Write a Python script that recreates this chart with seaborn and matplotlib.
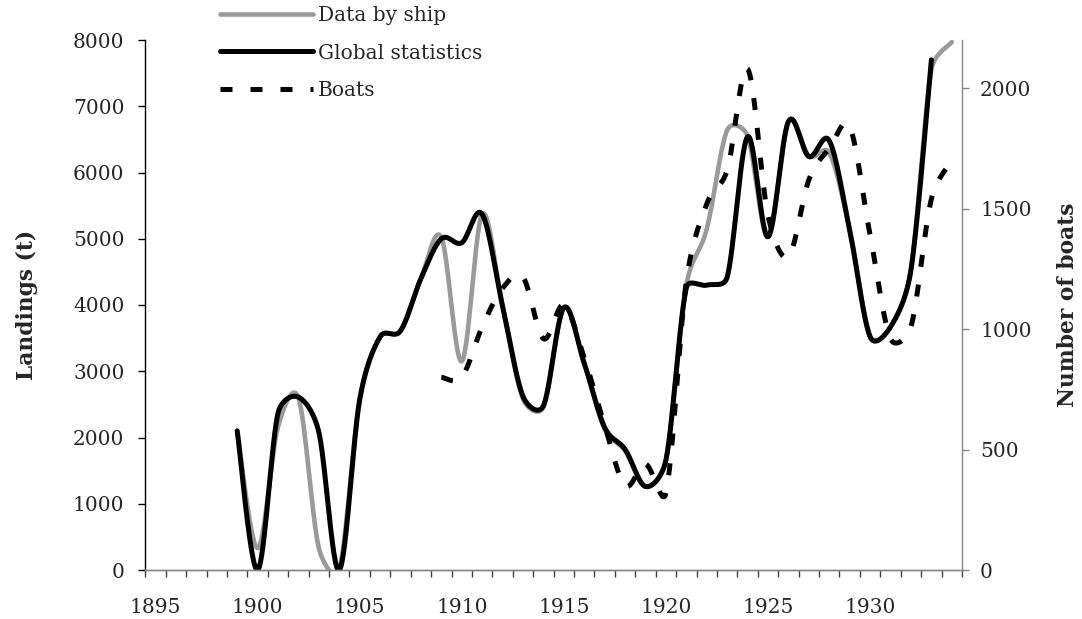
import numpy as np
import pandas as pd
import matplotlib
matplotlib.use("Agg")
import matplotlib.pyplot as plt
from matplotlib.ticker import FixedLocator
import seaborn as sns

# values (one per year)
ship_years = list(range(1899, 1935))
ship_landings = [2100, 330, 2160, 2600, 330, 0, 2570, 3520, 3610, 4400,
                 5020, 3150, 5370, 3980, 2580, 2460, 3950, 3110, 2130, 1800,
                 1260, 1660, 4300, 5150, 6640, 6550, 5030, 6770, 6250, 6300,
                 5130, 3520, 3670, 4530, 7550, 7970]

global_years = list(range(1899, 1934))
global_landings = [2100, 0, 2370, 2610, 2080, 0, 2570, 3520, 3610, 4400,
                   5000, 4940, 5370, 3980, 2620, 2480, 3960, 3120, 2150, 1820,
                   1260, 1660, 4260, 4300, 4420, 6540, 5030, 6770, 6240, 6480,
                   5130, 3520, 3670, 4530, 7700]

boat_years = list(range(1909, 1935))
boat_counts = [800, 800, 1010, 1170, 1215, 960, 1100, 880, 600, 350,
               440, 320, 1200, 1520, 1660, 2080, 1470, 1300, 1620, 1750,
               1840, 1390, 960, 1010, 1540, 1700]

left_ticks = [0, 1000, 2000, 3000, 4000, 5000, 6000, 7000, 8000]
right_ticks = [0, 500, 1000, 1500, 2000]
year_ticks = [1895, 1900, 1905, 1910, 1915, 1920, 1925, 1930]

# pixels per unit, so the smoothing behaves like it does on screen
PX_YEAR = 20.42
PX_LEFT = 530 / 8000
PX_RIGHT = 530 / 2200


def smoothed(xs, ys, sy, n=30):
    """Spreadsheet-style smoothed line: Bezier segments through the points,
    control arms of 1/6 of the neighbour chord, capped at half a segment."""
    scale = np.array([PX_YEAR, sy])
    s = np.column_stack([xs, ys]).astype(float) * scale
    ext = np.vstack([s[:1], s, s[-1:]])
    tang = (ext[2:] - ext[:-2]) / 6
    tlen = np.hypot(*tang.T)
    seg = np.hypot(*np.diff(s, axis=0).T)
    t = np.linspace(0, 1, n, endpoint=False)[:, None]
    parts = []
    for i in range(len(s) - 1):
        a, e = s[i], s[i + 1]
        fa = min(1.0, seg[i] / 2 / tlen[i]) if tlen[i] > 0 else 0
        fe = min(1.0, seg[i] / 2 / tlen[i + 1]) if tlen[i + 1] > 0 else 0
        b = a + tang[i] * fa
        c = e - tang[i + 1] * fe
        parts.append((1 - t) ** 3 * a + 3 * (1 - t) ** 2 * t * b
                     + 3 * (1 - t) * t ** 2 * c + t ** 3 * e)
    parts.append(s[-1:])
    out = np.vstack(parts) / scale
    return pd.DataFrame({"year": out[:, 0], "value": out[:, 1]})


sns.set_theme(style="white")
plt.rcParams["font.family"] = ["DejaVu Serif"]
plt.rcParams["axes.linewidth"] = 1.0

fig = plt.figure(figsize=(10.82, 6.19), dpi=100)
ax = fig.add_axes([145.3 / 1082, 1 - 570 / 619, (962 - 145.3) / 1082, 530 / 619])
ax2 = ax.twinx()

sns.lineplot(data=smoothed(ship_years, ship_landings, PX_LEFT), x="year", y="value",
             sort=False, estimator=None, color="#9a9a9a", lw=3.3,
             label="Data by ship", legend=False, ax=ax)
sns.lineplot(data=smoothed(global_years, global_landings, PX_LEFT), x="year", y="value",
             sort=False, estimator=None, color="black", lw=3.6,
             label="Global statistics", legend=False, ax=ax)
sns.lineplot(data=smoothed(boat_years, boat_counts, PX_RIGHT), x="year", y="value",
             sort=False, estimator=None, color="black", lw=3.6,
             label="Boats", legend=False, ax=ax2)
ax2.lines[-1].set_linestyle((0, (2.4, 3.6)))
ax2.lines[-1].set_dash_capstyle("butt")

ax.set_xlim(1894.5, 1934.5)
ax.set_ylim(0, 8000)
ax2.set_ylim(0, 2200)

ax.xaxis.set_major_locator(FixedLocator(year_ticks))
ax.xaxis.set_minor_locator(FixedLocator(np.arange(1894.5, 1935, 1.0)))
ax.set_xticklabels([str(y) for y in year_ticks])
ax.set_yticks(left_ticks)
ax.set_yticklabels([str(v) for v in left_ticks])
ax2.set_yticks(right_ticks)
ax2.set_yticklabels([str(v) for v in right_ticks])

ax.tick_params(axis="x", which="major", length=0, pad=20, labelsize=14.5)
ax.tick_params(axis="x", which="minor", length=5, width=1, direction="out",
               color="#404040", bottom=True)
ax.tick_params(axis="y", length=5, width=1, direction="out", color="black",
               pad=10, labelsize=14.5, left=True)
ax2.tick_params(axis="y", length=5, width=1, direction="out", color="#868686",
                pad=8, labelsize=14.5, right=True)

for a in (ax, ax2):
    a.spines["top"].set_visible(False)
    a.spines["bottom"].set_color("#868686")
    a.spines["left"].set_color("black")
    a.spines["right"].set_color("#868686")
    a.grid(False)
ax.spines["right"].set_visible(False)
ax2.spines["left"].set_visible(False)

ax.set_xlabel("")
ax.set_ylabel("Landings (t)", fontsize=15.7, fontweight="bold", labelpad=25)
ax2.set_ylabel("Number of boats", fontsize=15.7, fontweight="bold",
               rotation=90, labelpad=18)

h1, l1 = ax.get_legend_handles_labels()
h2, l2 = ax2.get_legend_handles_labels()
fig.legend(h1 + h2, l1 + l2, loc="upper left",
           bbox_to_anchor=(220 / 1082, 1 - 6 / 619), frameon=False,
           fontsize=14.5, handlelength=4.6, handletextpad=0.25,
           labelspacing=0.92, borderpad=0, borderaxespad=0)

fig.savefig("out.png", dpi=100)
